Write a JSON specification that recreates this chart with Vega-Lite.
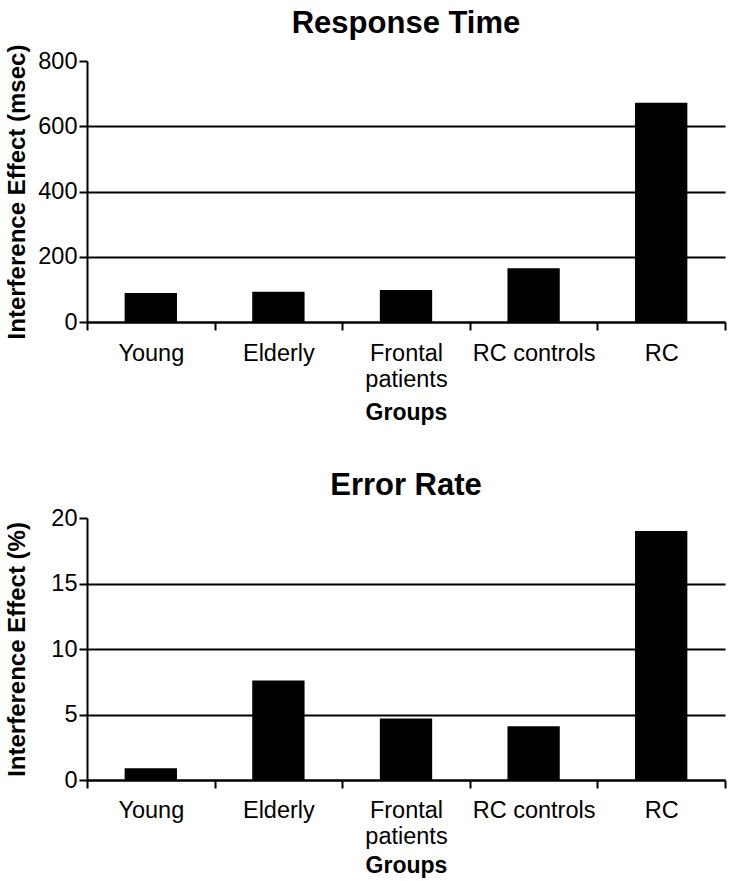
{
  "$schema": "https://vega.github.io/schema/vega-lite/v6.json",
  "background": "white",
  "padding": {"top": 8, "left": 5, "right": 5, "bottom": 2},
  "config": {
    "font": "Liberation Sans",
    "view": {"stroke": null},
    "axis": {
      "domainColor": "black", "domainWidth": 2,
      "tickColor": "black", "tickWidth": 2, "tickSize": 8,
      "labelColor": "black", "labelFont": "Liberation Sans", "labelFontSize": 23.5,
      "titleFont": "Liberation Sans", "titleFontSize": 24, "titleFontWeight": "bold", "titleColor": "black"
    },
    "title": {"fontSize": 31, "font": "Liberation Sans", "fontWeight": "bold", "color": "black", "anchor": "middle", "offset": 4},
    "concat": {"spacing": 45}
  },
  "datasets": {
    "rt": [
      {"group": "Young", "value": 89},
      {"group": "Elderly", "value": 93},
      {"group": "Frontal patients", "value": 98},
      {"group": "RC controls", "value": 165},
      {"group": "RC", "value": 672}
    ],
    "er": [
      {"group": "Young", "value": 0.9},
      {"group": "Elderly", "value": 7.6},
      {"group": "Frontal patients", "value": 4.7},
      {"group": "RC controls", "value": 4.1},
      {"group": "RC", "value": 19.0}
    ]
  },
  "vconcat": [
    {
      "title": "Response Time",
      "width": 638,
      "height": 261,
      "data": {"name": "rt"},
      "mark": {"type": "bar", "color": "black", "width": {"band": 0.41}},
      "encoding": {
        "x": {
          "field": "group", "type": "nominal", "sort": null,
          "scale": {"paddingInner": 0, "paddingOuter": 0},
          "axis": {
            "title": "Groups", "labelAngle": 0, "tickBand": "extent", "labelPadding": 11,
            "titlePadding": 11, "labelLineHeight": 26, "grid": false, "titleFontSize": 23,
            "labelExpr": "datum.label == 'Frontal patients' ? ['Frontal', 'patients'] : datum.label"
          }
        },
        "y": {
          "field": "value", "type": "quantitative",
          "scale": {"domain": [0, 800], "nice": false},
          "axis": {
            "title": "Interference Effect (msec)", "values": [0, 200, 400, 600, 800],
            "grid": true, "gridColor": "black", "gridWidth": 2, "titlePadding": 8, "labelPadding": 2,
            "gridOpacity": {"condition": {"test": "datum.value >= 800", "value": 0}, "value": 1}
          }
        }
      }
    },
    {
      "title": "Error Rate",
      "width": 638,
      "height": 262,
      "data": {"name": "er"},
      "mark": {"type": "bar", "color": "black", "width": {"band": 0.41}},
      "encoding": {
        "x": {
          "field": "group", "type": "nominal", "sort": null,
          "scale": {"paddingInner": 0, "paddingOuter": 0},
          "axis": {
            "title": "Groups", "labelAngle": 0, "tickBand": "extent", "labelPadding": 10,
            "titlePadding": 7, "labelLineHeight": 26, "grid": false, "titleFontSize": 23,
            "labelExpr": "datum.label == 'Frontal patients' ? ['Frontal', 'patients'] : datum.label"
          }
        },
        "y": {
          "field": "value", "type": "quantitative",
          "scale": {"domain": [0, 20], "nice": false},
          "axis": {
            "title": "Interference Effect (%)", "values": [0, 5, 10, 15, 20],
            "grid": true, "gridColor": "black", "gridWidth": 2, "titlePadding": 21, "labelPadding": 2,
            "gridOpacity": {"condition": {"test": "datum.value >= 20", "value": 0}, "value": 1}
          }
        }
      }
    }
  ]
}
